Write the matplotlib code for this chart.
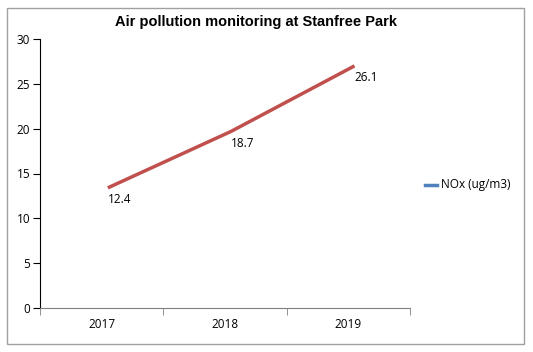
import numpy as np
import matplotlib.pyplot as plt
from matplotlib.patches import Rectangle

years = ['2017', '2018', '2019']
nox = [13.4, 19.7, 27.0]
nox_labels = ['12.4', '18.7', '26.1']

fig = plt.figure(figsize=(5.33, 3.52), dpi=100)
ax = fig.add_axes([40/533, 1-308/352, 370/533, 269/352])

# outer chart frame
fig.patches.append(Rectangle((7/533, 1-344/352), 517/533, 336/352,
                             transform=fig.transFigure, fill=False,
                             edgecolor='#a0a0a0', linewidth=1))

x = np.arange(len(years))
ax.plot(x + 0.05, nox, color='#c0504d', linewidth=2.5, solid_capstyle='butt')
for xi, yi, lab in zip(x, nox, nox_labels):
    ax.annotate(lab, (xi + 0.05, yi), xytext=(0, -4), textcoords='offset points',
                ha='left', va='top', fontsize=8.5, family='Open Sans')

ax.set_xlim(-0.5, 2.5)
ax.set_ylim(0, 30)
ax.set_yticks(range(0, 31, 5))
ax.set_xticks(x)
ax.set_xticklabels(years)
ax.set_xticks([-0.5, 0.5, 1.5, 2.5], minor=True)
ax.tick_params(axis='x', which='major', length=0, pad=7)
ax.tick_params(axis='x', which='minor', length=5, direction='out', color='#808080')
ax.tick_params(axis='y', length=5, direction='out', pad=2)
for lab in ax.get_xticklabels() + ax.get_yticklabels():
    lab.set_family('Open Sans')
    lab.set_fontsize(8.5)

ax.spines['top'].set_visible(False)
ax.spines['right'].set_visible(False)
ax.spines['bottom'].set_color('#808080')
ax.spines['left'].set_color('black')

fig.text(256/533, 1-22/352, 'Air pollution monitoring at Stanfree Park',
         ha='center', va='center', fontsize=10.5, fontweight='bold',
         family='Liberation Sans')

# legend
fig.add_artist(plt.Line2D([425/533, 437/533], [1-185/352, 1-185/352],
                          color='#4f81bd', linewidth=2.5, transform=fig.transFigure))
fig.text(441/533, 1-185/352, 'NOx (ug/m3)', ha='left', va='center',
         fontsize=8.5, family='Open Sans')

fig.savefig('out.png', dpi=100)
